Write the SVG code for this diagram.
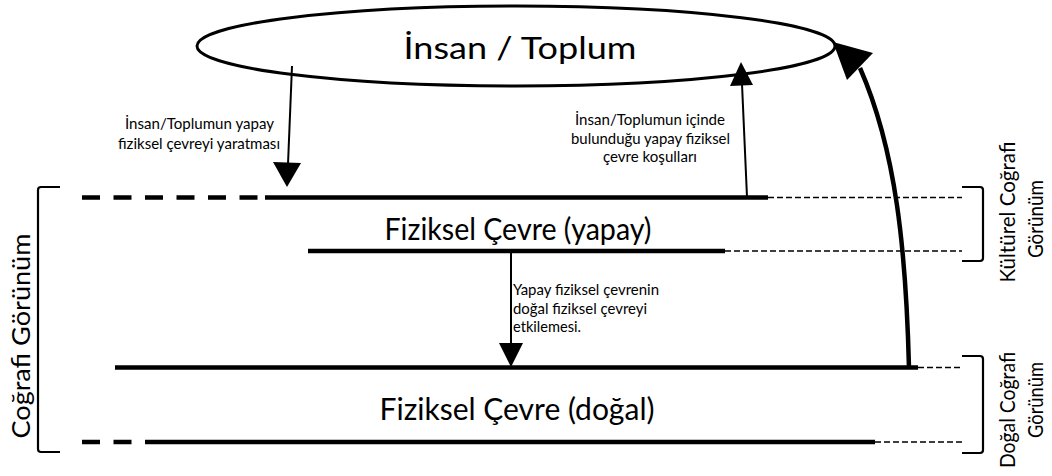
<svg xmlns="http://www.w3.org/2000/svg" width="1052" height="476" viewBox="0 0 1052 476">
<defs>
<style>
.t{font-family:Lato,"Open Sans","Noto Sans",sans-serif;fill:#000}
.big{font-size:30px}
.sm{font-size:15px}
.lab{font-size:22px}
.labl{font-size:25px}
.thick{stroke:#000;stroke-width:4.5;fill:none}
.dash{stroke:#000;stroke-width:4.5;fill:none;stroke-dasharray:18 13.5}
.thin{stroke:#000;stroke-width:1.6;fill:none;stroke-dasharray:6 3}
.line{stroke:#000;stroke-width:2;fill:none}
.br{stroke:#000;stroke-width:2.2;fill:none}
</style>
</defs>
<rect width="1052" height="476" fill="#fff"/>
<g id="insan-toplum">
<ellipse cx="516" cy="46" rx="319" ry="40" fill="#fff" stroke="#000" stroke-width="3"/>
<text class="t big" x="520" y="59" text-anchor="middle" textLength="233" lengthAdjust="spacingAndGlyphs">İnsan / Toplum</text>
</g>
<g id="yapay">
<path class="dash" d="M82,197.5 H265"/>
<path class="thick" d="M265,197.5 H768"/>
<path class="thin" d="M768,197.5 H962"/>
<text class="t big" x="518" y="240" text-anchor="middle" textLength="267" lengthAdjust="spacingAndGlyphs">Fiziksel Çevre (yapay)</text>
<path class="thick" d="M308,251 H725"/>
<path class="thin" d="M725,251 H962"/>
</g>
<g id="dogal">
<path class="thick" d="M115,367.5 H918"/>
<path class="thin" d="M918,367.5 H962"/>
<text class="t big" x="517" y="420" text-anchor="middle" textLength="275" lengthAdjust="spacingAndGlyphs">Fiziksel Çevre (doğal)</text>
<path class="dash" d="M82,442 H145"/>
<path class="thick" d="M145,442 H875"/>
<path class="thin" d="M875,442 H962"/>
</g>
<g id="brackets">
<path class="br" d="M60,187 H41 Q38,187 38,190 V449 Q38,452 41,452 H60"/>
<path class="br" d="M962,187 H980 Q983,187 983,190 V258 Q983,261 980,261 H962"/>
<path class="br" d="M962,356 H980 Q983,356 983,359 V450 Q983,453 980,453 H962"/>
<text class="t labl" transform="translate(30,336) rotate(-90)" text-anchor="middle" textLength="205" lengthAdjust="spacingAndGlyphs">Coğrafi Görünüm</text>
<text class="t lab" transform="translate(1015,212) rotate(-90)" text-anchor="middle" textLength="141" lengthAdjust="spacingAndGlyphs">Kültürel Coğrafi</text>
<text class="t lab" transform="translate(1043,219) rotate(-90)" text-anchor="middle" textLength="78" lengthAdjust="spacingAndGlyphs">Görünüm</text>
<text class="t lab" transform="translate(1015,410) rotate(-90)" text-anchor="middle" textLength="116" lengthAdjust="spacingAndGlyphs">Doğal Coğrafi</text>
<text class="t lab" transform="translate(1043,400) rotate(-90)" text-anchor="middle" textLength="76" lengthAdjust="spacingAndGlyphs">Görünüm</text>
</g>
<g id="connectors">
<path class="line" d="M292,66 L288,164"/>
<polygon points="287,187 273,162 301,163" fill="#000"/>
<path class="line" d="M747,197 L742,84"/>
<polygon points="741,62 730,86 753,85" fill="#000"/>
<path class="line" d="M511,251 V345"/>
<polygon points="511,367 499,343 523,343" fill="#000"/>
<path stroke="#000" stroke-width="4.5" fill="none" d="M909,368 C906,250 896,150 860,68"/>
<polygon points="833,42 847,80 873,53" fill="#000"/>
</g>
<g id="labels">
<text class="t sm" text-anchor="middle" x="199.5" y="129" textLength="149" lengthAdjust="spacingAndGlyphs">İnsan/Toplumun yapay</text>
<text class="t sm" text-anchor="middle" x="199" y="149" textLength="162" lengthAdjust="spacingAndGlyphs">fiziksel çevreyi yaratması</text>
<text class="t sm" text-anchor="middle" x="650" y="125" textLength="150" lengthAdjust="spacingAndGlyphs">İnsan/Toplumun içinde</text>
<text class="t sm" text-anchor="middle" x="650.5" y="144" textLength="159" lengthAdjust="spacingAndGlyphs">bulunduğu yapay fiziksel</text>
<text class="t sm" text-anchor="middle" x="650" y="162" textLength="94" lengthAdjust="spacingAndGlyphs">çevre koşulları</text>
<text class="t sm" x="513" y="295" textLength="146" lengthAdjust="spacingAndGlyphs">Yapay fiziksel çevrenin</text>
<text class="t sm" x="513" y="314" textLength="134" lengthAdjust="spacingAndGlyphs">doğal fiziksel çevreyi</text>
<text class="t sm" x="513" y="332" textLength="68" lengthAdjust="spacingAndGlyphs">etkilemesi.</text>
</g>
</svg>
